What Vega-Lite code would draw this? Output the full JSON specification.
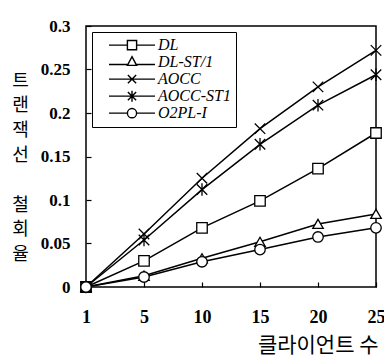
{
  "$schema": "https://vega.github.io/schema/vega-lite/v6.json",
  "autosize": "none",
  "width": 290,
  "height": 261,
  "padding": {"left": 86, "top": 26, "right": 8, "bottom": 69},
  "background": "white",
  "config": {
    "view": {"stroke": "black", "strokeWidth": 1.5},
    "axis": {"domain": false, "grid": false, "tickColor": "black", "tickWidth": 1.2, "labelColor": "black", "titleColor": "black"}
  },
  "data": {
    "values": [
      {"n": 1, "s": "DL", "v": 0}, {"n": 5, "s": "DL", "v": 0.03}, {"n": 10, "s": "DL", "v": 0.068}, {"n": 15, "s": "DL", "v": 0.099}, {"n": 20, "s": "DL", "v": 0.136}, {"n": 25, "s": "DL", "v": 0.177},
      {"n": 1, "s": "DL-ST/1", "v": 0}, {"n": 5, "s": "DL-ST/1", "v": 0.013}, {"n": 10, "s": "DL-ST/1", "v": 0.033}, {"n": 15, "s": "DL-ST/1", "v": 0.052}, {"n": 20, "s": "DL-ST/1", "v": 0.0725}, {"n": 25, "s": "DL-ST/1", "v": 0.084},
      {"n": 1, "s": "AOCC", "v": 0}, {"n": 5, "s": "AOCC", "v": 0.061}, {"n": 10, "s": "AOCC", "v": 0.125}, {"n": 15, "s": "AOCC", "v": 0.182}, {"n": 20, "s": "AOCC", "v": 0.23}, {"n": 25, "s": "AOCC", "v": 0.272},
      {"n": 1, "s": "AOCC-ST1", "v": 0}, {"n": 5, "s": "AOCC-ST1", "v": 0.054}, {"n": 10, "s": "AOCC-ST1", "v": 0.112}, {"n": 15, "s": "AOCC-ST1", "v": 0.164}, {"n": 20, "s": "AOCC-ST1", "v": 0.209}, {"n": 25, "s": "AOCC-ST1", "v": 0.244},
      {"n": 1, "s": "O2PL-I", "v": 0}, {"n": 5, "s": "O2PL-I", "v": 0.0115}, {"n": 10, "s": "O2PL-I", "v": 0.029}, {"n": 15, "s": "O2PL-I", "v": 0.043}, {"n": 20, "s": "O2PL-I", "v": 0.0575}, {"n": 25, "s": "O2PL-I", "v": 0.068}
    ]
  },
  "encoding": {
    "x": {
      "field": "n", "type": "ordinal", "sort": "ascending",
      "scale": {"type": "point", "padding": 0},
      "axis": {
        "labelAngle": 0, "tickSize": -5, "labelPadding": 26,
        "labelFont": "Liberation Serif", "labelFontWeight": "bold", "labelFontSize": 18,
        "title": "클라이언트 수", "titleFont": "Noto Sans CJK KR", "titleFontWeight": "normal", "titleFontSize": 21,
        "titleAnchor": "end", "titleAlign": "right", "titleBaseline": "middle", "titleX": 292, "titleY": 58
      }
    },
    "y": {
      "field": "v", "type": "quantitative",
      "scale": {"domain": [0, 0.3], "nice": false},
      "axis": {
        "values": [0, 0.05, 0.1, 0.15, 0.2, 0.25, 0.3], "format": ".2~f",
        "tickSize": -5, "labelPadding": 21,
        "labelFont": "Liberation Serif", "labelFontWeight": "bold", "labelFontSize": 17,
        "title": ["트", "랜", "잭", "선", "\u2800", "철", "회", "율"],
        "titleAngle": 0, "titleFont": "Noto Sans CJK KR", "titleFontWeight": "normal", "titleFontSize": 18,
        "titleLineHeight": 24.8, "titleAlign": "center", "titleBaseline": "top", "titleX": -66, "titleY": 46
      }
    }
  },
  "resolve": {"scale": {"shape": "independent"}, "legend": {"shape": "independent"}},
  "layer": [
    {
      "mark": {"type": "line", "stroke": "black", "strokeWidth": 1.5},
      "encoding": {"detail": {"field": "s"}}
    },
    {
      "mark": {"type": "point", "filled": true, "fill": "white", "stroke": "black", "strokeWidth": 1.3, "size": 110, "opacity": 1},
      "encoding": {
        "shape": {
          "field": "s",
          "scale": {
            "domain": ["DL", "DL-ST/1", "AOCC", "AOCC-ST1", "O2PL-I"],
            "range": ["square", "triangle-up", "M-1,-1L1,1M-1,1L1,-1", "M-1,-1L1,1M-1,1L1,-1M0,-1.2L0,1.2", "circle"]
          },
          "legend": null
        }
      }
    },
    {
      "transform": [{"filter": "datum.v < 0"}],
      "mark": {"type": "point", "filled": false, "stroke": "black", "strokeWidth": 1.4, "size": 2116, "opacity": 1},
      "encoding": {
        "shape": {
          "field": "s",
          "scale": {
            "domain": ["DL", "DL-ST/1", "AOCC", "AOCC-ST1", "O2PL-I"],
            "range": [
              "M-1,0H-0.2M0.2,0H1M-0.2,-0.2H0.2V0.2H-0.2Z",
              "M-1,0.1H-0.18M0.18,0.1H1M0,-0.24L0.2,0.14L-0.2,0.14Z",
              "M-1,0H1M-0.18,-0.18L0.18,0.18M-0.18,0.18L0.18,-0.18",
              "M-1,0H1M-0.18,-0.18L0.18,0.18M-0.18,0.18L0.18,-0.18M0,-0.24V0.24",
              "M-1,0H-0.2M0.2,0H1M-0.2,0A0.2,0.2 0 1,0 0.2,0A0.2,0.2 0 1,0 -0.2,0Z"
            ]
          },
          "legend": {
            "title": null, "orient": "none", "legendX": 6, "legendY": 6,
            "strokeColor": "black", "fillColor": "white",
            "padding": 5, "rowPadding": 0, "symbolOffset": 11, "labelOffset": 2, "symbolSize": 2116, "clipHeight": 16.3,
            "symbolStrokeColor": "black", "symbolStrokeWidth": 1.4, "symbolOpacity": 1,
            "labelFont": "Liberation Serif", "labelFontStyle": "italic", "labelFontSize": 16, "labelColor": "black",
            "encode": {
              "legend": {"update": {"strokeWidth": {"value": 1.5}}},
              "symbols": {"update": {"stroke": {"value": "black"}, "fill": {"value": "white"}, "opacity": {"value": 1}, "strokeWidth": {"value": 1.4}}}
            }
          }
        }
      }
    }
  ]
}
